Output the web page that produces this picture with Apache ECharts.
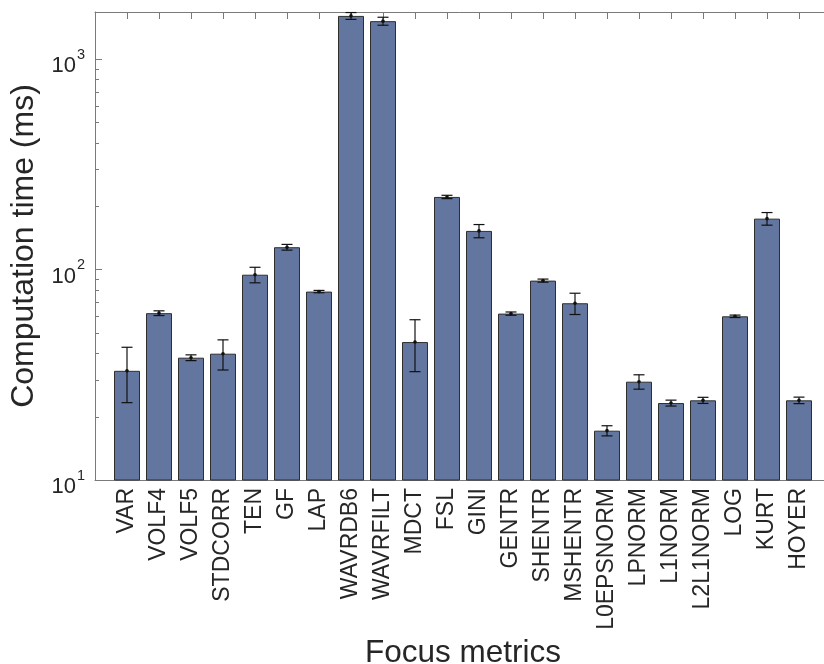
<!DOCTYPE html>
<html>
<head>
<meta charset="utf-8">
<script src="https://cdn.jsdelivr.net/npm/echarts@6/dist/echarts.min.js"></script>
<style>
  html, body { margin: 0; padding: 0; background: #fff; }
  #chart { width: 824px; height: 664px; }
</style>
</head>
<body>
<div id="chart"></div>
<script>
// Focus metric names, in plotting order
const categories = ['VAR', 'VOLF4', 'VOLF5', 'STDCORR', 'TEN', 'GF', 'LAP', 'WAVRDB6', 'WAVRFILT', 'MDCT',
  'FSL', 'GINI', 'GENTR', 'SHENTR', 'MSHENTR', 'L0EPSNORM', 'LPNORM', 'L1NORM', 'L2L1NORM', 'LOG', 'KURT', 'HOYER'];

// Mean computation time per metric (ms)
const meanTimes = [33.0, 62.0, 38.1, 39.8, 94.4, 127.5, 78.5, 1600, 1511, 45.2,
  221, 152.4, 61.7, 88.5, 69.1, 17.15, 29.3, 23.2, 23.9, 59.9, 174.3, 23.9];

// Standard deviation of computation time (ms)
const stdTimes = [9.7, 1.6, 1.2, 6.5, 8.0, 4.0, 1.0, 60, 66, 12.5,
  4.0, 11.0, 1.1, 1.5, 8.0, 0.95, 2.3, 0.75, 0.8, 0.8, 12.0, 0.85];

// Log axis range and decades
const yMin = 10;
const yMax = 1670;
const decades = [10, 100, 1000];

const FONT = '"Liberation Sans", Arial, Helvetica, sans-serif';
const AXIS_GRAY = '#7a7a7a';
const TEXT_COLOR = '#262626';

const barData = meanTimes.map((v, i) => [i + 1, v]);
const errData = meanTimes.map((v, i) => [i + 1, v, stdTimes[i]]);

// Minor log ticks (2..9 within each decade)
const minorTicks = [];
decades.forEach(d => {
  for (let k = 2; k <= 9; k++) {
    if (k * d < yMax) minorTicks.push([0, k * d]);
  }
});

const chart = echarts.init(document.getElementById('chart'), null, { renderer: 'canvas' });

chart.setOption({
  animation: false,
  backgroundColor: '#fff',
  grid: { left: 95, top: 12, width: 736, height: 468, containLabel: false, outerBoundsMode: 'none' },
  xAxis: [{
    type: 'value',
    min: 0,
    max: categories.length + 1,
    interval: 1,
    position: 'bottom',
    name: 'Focus metrics',
    nameLocation: 'middle',
    nameGap: 156,
    nameTextStyle: { fontFamily: FONT, fontSize: 31.5, color: TEXT_COLOR },
    axisLine: { show: true, lineStyle: { color: AXIS_GRAY, width: 1 } },
    axisTick: { show: false },
    splitLine: { show: false },
    axisLabel: {
      rotate: 90,
      margin: 8,
      fontFamily: FONT,
      fontSize: 23,
      color: TEXT_COLOR,
      showMinLabel: false,
      showMaxLabel: false,
      formatter: v => categories[v - 1] || ''
    }
  }, {
    type: 'value',
    min: 0,
    max: categories.length + 1,
    interval: 1,
    position: 'top',
    axisLine: { show: true, lineStyle: { color: AXIS_GRAY, width: 1 } },
    axisTick: { show: true, inside: true, length: 7, lineStyle: { color: AXIS_GRAY } },
    axisLabel: { show: false },
    splitLine: { show: false }
  }],
  yAxis: {
    type: 'log',
    logBase: 10,
    min: yMin,
    max: yMax,
    name: 'Computation time (ms)',
    nameLocation: 'middle',
    nameRotate: 90,
    nameGap: 45,
    nameTextStyle: { fontFamily: FONT, fontSize: 32, color: TEXT_COLOR },
    axisLine: { show: true, lineStyle: { color: AXIS_GRAY, width: 1 } },
    axisTick: { show: true, inside: true, length: 7, lineStyle: { color: AXIS_GRAY } },
    splitLine: { show: false },
    axisLabel: {
      margin: 10,
      fontFamily: FONT,
      color: TEXT_COLOR,
      formatter: v => {
        const e = Math.log10(v);
        if (Math.abs(e - Math.round(e)) > 1e-6) return '';
        return '{b|10}{s|' + Math.round(e) + '}';
      },
      rich: {
        b: { fontFamily: FONT, fontSize: 22, color: TEXT_COLOR, padding: [14, 0, 0, 0] },
        s: { fontFamily: FONT, fontSize: 14.5, color: TEXT_COLOR, padding: [0, 0, 8, 1] }
      }
    }
  },
  series: [{
    type: 'bar',
    xAxisIndex: 0,
    data: barData,
    barWidth: 26,
    clip: true,
    itemStyle: { color: '#6276a0', borderColor: '#2e2e2e', borderWidth: 1 },
    z: 2
  }, {
    type: 'custom',
    xAxisIndex: 0,
    data: errData,
    encode: { x: 0, y: 1 },
    z: 5,
    renderItem: (params, api) => {
      const x = api.value(0), m = api.value(1), s = api.value(2);
      const hi = api.coord([x, m + s]);
      const lo = api.coord([x, m - s]);
      const c = api.coord([x, m]);
      const cap = 5.5;
      const style = { stroke: '#111', lineWidth: 1.2 };
      return {
        type: 'group',
        children: [
          { type: 'line', shape: { x1: c[0], y1: hi[1], x2: c[0], y2: lo[1] }, style },
          { type: 'line', shape: { x1: c[0] - cap, y1: hi[1], x2: c[0] + cap, y2: hi[1] }, style },
          { type: 'line', shape: { x1: c[0] - cap, y1: lo[1], x2: c[0] + cap, y2: lo[1] }, style },
          { type: 'circle', shape: { cx: c[0], cy: c[1], r: 1.8 }, style: { fill: '#111' } }
        ]
      };
    }
  }, {
    type: 'custom',
    xAxisIndex: 0,
    data: minorTicks,
    encode: { x: 0, y: 1 },
    z: 6,
    silent: true,
    renderItem: (params, api) => {
      const p = api.coord([api.value(0), api.value(1)]);
      return {
        type: 'line',
        shape: { x1: p[0], y1: Math.round(p[1]) + 0.5, x2: p[0] + 4, y2: Math.round(p[1]) + 0.5 },
        style: { stroke: AXIS_GRAY, lineWidth: 1 }
      };
    }
  }]
});
</script>
</body>
</html>
